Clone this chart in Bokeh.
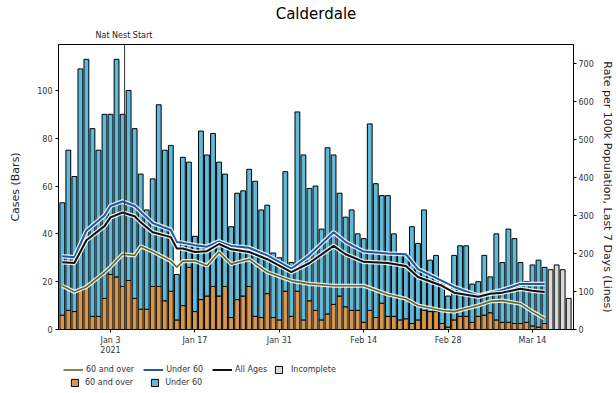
import pandas as pd
from bokeh.plotting import figure
from bokeh.layouts import column
from bokeh.models import (Range1d, LinearAxis, FixedTicker, Span, Legend,
                          LegendItem, Title, ColumnDataSource)
from bokeh.embed import file_html
from bokeh.resources import INLINE

# ---------------- data ----------------
START_DATE = "2020-12-26"
cases_total = [53, 75, 64, 109, 113, 84, 75, 90, 90, 113, 90, 100, 84, 65, 50, 63, 94, 75, 77, 23,
               72, 70, 39, 83, 73, 82, 70, 65, 43, 57, 58, 67, 62, 50, 52, 32, 30, 66, 28, 91,
               73, 59, 60, 42, 76, 73, 57, 47, 50, 40, 38, 86, 61, 56, 56, 40, 32, 31, 43, 36,
               50, 29, 31, 19, 14, 31, 35, 35, 19, 20, 31, 22, 40, 28, 42, 38, 28, 20, 27, 29, 26]
cases_60_over = [6, 8, 7.5, 17, 18, 5.5, 5.5, 13, 23, 22, 18, 20.5, 13, 8.5, 8.5, 18, 18, 12, 16, 4,
                 10, 26, 7.5, 12.5, 14, 18, 14, 18, 5, 12.5, 14, 18, 5.5, 5, 15, 5, 4, 16, 5.5, 16,
                 4, 12, 8, 4, 6.5, 10.5, 14, 9.5, 8, 8, 3, 8, 5, 11, 5.5, 5.5, 4, 4.5, 2.5, 4,
                 8, 7.5, 7.5, 2.5, 1, 4, 5.5, 5.5, 3, 5.5, 6, 7, 4, 3, 3, 2.5, 2.5, 3, 1.5, 1, 2.5]
incomplete_total = [25, 27, 25, 13]

rate_day = [0, 2, 4, 7, 8, 10, 12, 13, 15, 18, 19, 20, 22, 24, 26, 28, 31, 34, 38, 41,
            45, 47, 50, 54, 57, 59, 63, 65, 69, 71, 73, 76, 78, 80]
rate_all_ages = [177, 175, 235, 272, 295, 308, 298, 282, 256, 243, 213, 213, 204, 206, 225, 211, 204,
                 185, 151, 175, 220, 198, 178, 175, 167, 138, 115, 97, 86, 94, 97, 107, 102, 99]
rate_under_60 = [193, 190, 260, 300, 325, 337, 325, 310, 280, 262, 230, 228, 222, 218, 232, 220, 215,
                 195, 160, 195, 256, 230, 205, 200, 198, 159, 128, 112, 89, 97, 104, 120, 120, 120]
rate_60_over = [115, 99, 112, 150, 165, 198, 195, 219, 205, 180, 164, 180, 180, 168, 204, 172, 185,
                151, 128, 120, 115, 115, 115, 92, 81, 63, 50, 47, 63, 74, 76, 68, 47, 29]

tick_dates = ["2021-01-03", "2021-01-17", "2021-01-31", "2021-02-14", "2021-02-28", "2021-03-14"]
tick_labels = ["Jan 3\n2021", "Jan 17", "Jan 31", "Feb 14", "Feb 28", "Mar 14"]
left_ticks = [0, 20, 40, 60, 80, 100]
right_ticks = [0, 100, 200, 300, 400, 500, 600, 700]
event_date = "2021-01-05 08:00"
event_label = "Nat Nest Start"

# ---------------- style ----------------
FONT = "DejaVu Sans"
ORANGE = "#d8964a"
SKY = "#5fb9d9"
GREY = "#d9d9d9"
OLIVE = "#66692a"
BLUE_LINE = "#2258a8"
BLACK = "#111111"


def ms(ts):
    return pd.Timestamp(ts).value / 1e6


DAY_MS = 86400000.0
start_ms = ms(START_DATE)
n = len(cases_total)
dates = [start_ms + i * DAY_MS for i in range(n)]
inc_dates = [start_ms + (n + i) * DAY_MS for i in range(len(incomplete_total))]
rate_dates = [start_ms + d * DAY_MS for d in rate_day]
BAR_W = 0.8 * DAY_MS

p = figure(width=616, height=358, x_axis_type="datetime", output_backend="svg",
           toolbar_location=None, title=None,
           x_range=Range1d(start_ms - 0.63 * DAY_MS, start_ms + 84.8 * DAY_MS),
           y_range=Range1d(0, 119.2),
           min_border_left=58, min_border_right=43, min_border_top=44, min_border_bottom=28)
p.extra_y_ranges = {"rate": Range1d(0, 750)}

src = ColumnDataSource(dict(x=dates, o=cases_60_over, t=cases_total))
p.vbar(x="x", bottom=0, top="o", width=BAR_W, source=src,
       fill_color=ORANGE, line_color="black", line_width=1)
p.vbar(x="x", bottom="o", top="t", width=BAR_W, source=src,
       fill_color=SKY, line_color="black", line_width=1)
p.vbar(x=inc_dates, bottom=0, top=incomplete_total, width=BAR_W,
       fill_color=GREY, line_color="black", line_width=1)

LINE_STYLES = [(rate_60_over, OLIVE, 1.6), (rate_under_60, BLUE_LINE, 2.0),
               (rate_all_ages, BLACK, 2.0)]
for vals, color, lw in LINE_STYLES:
    p.line(rate_dates, vals, y_range_name="rate", line_color="white", line_width=lw + 2.5,
           line_alpha=0.85)
    p.line(rate_dates, vals, y_range_name="rate", line_color=color, line_width=lw)

p.add_layout(Span(location=ms(event_date), dimension="height", line_color="#333333",
                  line_width=1))

# axes
right_axis = LinearAxis(y_range_name="rate",
                        axis_label="Rate per 100k Population, Last 7 Days (Lines)",
                        ticker=FixedTicker(ticks=right_ticks))
p.add_layout(right_axis, "right")
p.left[0].axis_label = "Cases (Bars)"
p.left[0].ticker = FixedTicker(ticks=left_ticks)

tick_ms = [ms(d) for d in tick_dates]
p.xaxis.ticker = FixedTicker(ticks=tick_ms)
p.xaxis.major_label_overrides = {t: lab for t, lab in zip(tick_ms, tick_labels)}

for ax in p.xaxis + p.yaxis:
    ax.major_label_text_font = FONT
    ax.major_label_text_font_size = "8px"
    ax.major_label_text_color = "#333333"
    ax.axis_label_text_font = FONT
    ax.axis_label_text_font_size = "11px"
    ax.axis_label_text_font_style = "normal"
    ax.axis_label_text_color = "#222222"
    ax.axis_line_color = "black"
    ax.major_tick_line_color = "black"
    ax.major_tick_out = 3
    ax.major_tick_in = 0
    ax.minor_tick_line_color = None
    ax.major_label_standoff = 3
    ax.axis_label_standoff = 6
p.left[0].axis_label_standoff = 12
right_axis.major_label_standoff = 2
right_axis.axis_label_standoff = 4

p.xgrid.visible = False
p.ygrid.visible = False
p.outline_line_color = "black"
p.outline_line_width = 1
p.background_fill_color = "white"
p.border_fill_color = "white"

# titles
p.add_layout(Title(text=event_label, align="left", offset=37, text_font=FONT,
                   text_font_size="8px", text_font_style="normal", text_color="#222222",
                   standoff=9), "above")
p.add_layout(Title(text="Calderdale", align="center", text_font=FONT,
                   text_font_size="15px", text_font_style="normal", text_color="black",
                   standoff=3), "above")

# ---------------- legend strip (separate figure below the chart) ----------------
lg = figure(width=616, height=35, output_backend="svg", toolbar_location=None, title=None,
            x_range=Range1d(0, 1), y_range=Range1d(0, 1),
            x_axis_location=None, y_axis_location=None,
            min_border_left=0, min_border_right=0, min_border_top=0, min_border_bottom=0)
lg.outline_line_color = None
lg.xgrid.visible = False
lg.ygrid.visible = False
lg.background_fill_color = "white"
lg.border_fill_color = "white"

# key glyphs: placed outside the strip's visible range, used only as legend swatches
KEY_X = [-5.0, -4.0]
KEY_Y = [-5.0, -4.0]
k_lines = [lg.line(x=KEY_X, y=KEY_Y, line_color=c, line_width=lw) for _, c, lw in LINE_STYLES]
k_grey = lg.vbar(x=KEY_X, top=KEY_Y, width=0.5, fill_color=GREY, line_color="black", line_width=1)
k_orange = lg.vbar(x=KEY_X, top=KEY_Y, width=0.5, fill_color=ORANGE, line_color="black", line_width=1)
k_sky = lg.vbar(x=KEY_X, top=KEY_Y, width=0.5, fill_color=SKY, line_color="black", line_width=1)

common = dict(orientation="horizontal", label_text_font=FONT, label_text_font_size="8px",
              label_text_color="#333333", glyph_height=9, padding=0, margin=0,
              border_line_color=None, background_fill_alpha=0, label_height=10)
lg.add_layout(Legend(items=[
    LegendItem(label="60 and over", renderers=[k_lines[0]]),
    LegendItem(label="Under 60", renderers=[k_lines[1]]),
    LegendItem(label="All Ages", renderers=[k_lines[2]]),
], location=(5, 19), glyph_width=20, label_standoff=3, spacing=9, **common), "center")
lg.add_layout(Legend(items=[
    LegendItem(label="Incomplete", renderers=[k_grey]),
], location=(216, 19), glyph_width=9, label_standoff=8, spacing=9, **common), "center")
lg.add_layout(Legend(items=[
    LegendItem(label="60 and over", renderers=[k_orange]),
    LegendItem(label="Under 60", renderers=[k_sky]),
], location=(12, 6), glyph_width=9, label_standoff=6, spacing=17, **common), "center")

layout = column(p, lg, spacing=0)
open("out.html", "w").write(file_html(layout, INLINE))
